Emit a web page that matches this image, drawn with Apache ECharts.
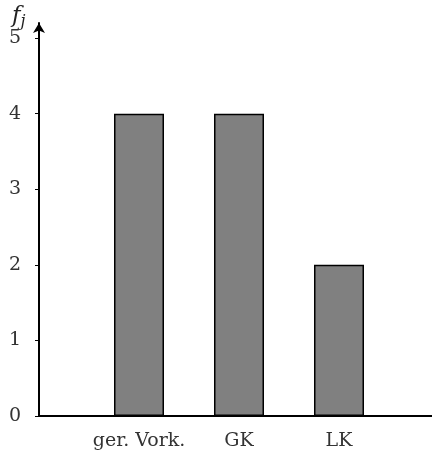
<!DOCTYPE html>
<html><head><meta charset="utf-8">
<script src="https://cdn.jsdelivr.net/npm/echarts@6/dist/echarts.min.js"></script>
<style>html,body{margin:0;padding:0;background:#fff}#c{width:432px;height:457px}</style>
</head><body><div id="c"></div>
<script>
const categories = ['ger. Vork.', 'GK', 'LK'];
const categoryPositions = [1, 2, 3];
const values = [4, 4, 2];
const yTicks = [0, 1, 2, 3, 4, 5];

const chart = echarts.init(document.getElementById('c'));
const font = 'DejaVu Serif';
chart.setOption({
  animation: false,
  title: {
    text: '{f|f}{j|j}',
    left: 7, top: -3,
    textStyle: {
      fontWeight: 'normal',
      rich: {
        f: {fontFamily: font, fontStyle: 'italic', fontWeight: 'normal', fontSize: 23, color: '#222'},
        j: {fontFamily: font, fontStyle: 'italic', fontWeight: 'normal', fontSize: 16, color: '#222', padding: [12, 0, 0, 0]}
      }
    }
  },
  grid: {left: 39, right: 0, top: 23, bottom: 41, containLabel: false},
  xAxis: {
    type: 'value', min: 0, max: 3.93,
    splitLine: {show: false},
    axisTick: {show: false},
    axisLine: {lineStyle: {color: '#000', width: 2}},
    axisLabel: {
      customValues: categoryPositions,
      formatter: v => categories[categoryPositions.indexOf(v)] || '',
      fontFamily: font, fontSize: 19, color: '#333', margin: 16
    }
  },
  yAxis: {
    type: 'value', min: 0, max: 5.2,
    splitLine: {show: false},
    axisLine: {show: true, lineStyle: {color: '#000', width: 2}, symbol: ['none', 'arrow'], symbolSize: [9, 10]},
    axisTick: {show: true, customValues: yTicks, length: 4, lineStyle: {color: '#000'}},
    axisLabel: {customValues: yTicks, fontFamily: font, fontSize: 19, color: '#333', margin: 18}
  },
  series: [{
    type: 'bar',
    data: categoryPositions.map((x, i) => [x, values[i]]),
    barWidth: 50,
    itemStyle: {color: '#808080', borderColor: '#000', borderWidth: 1.5}
  }]
});
</script></body></html>
